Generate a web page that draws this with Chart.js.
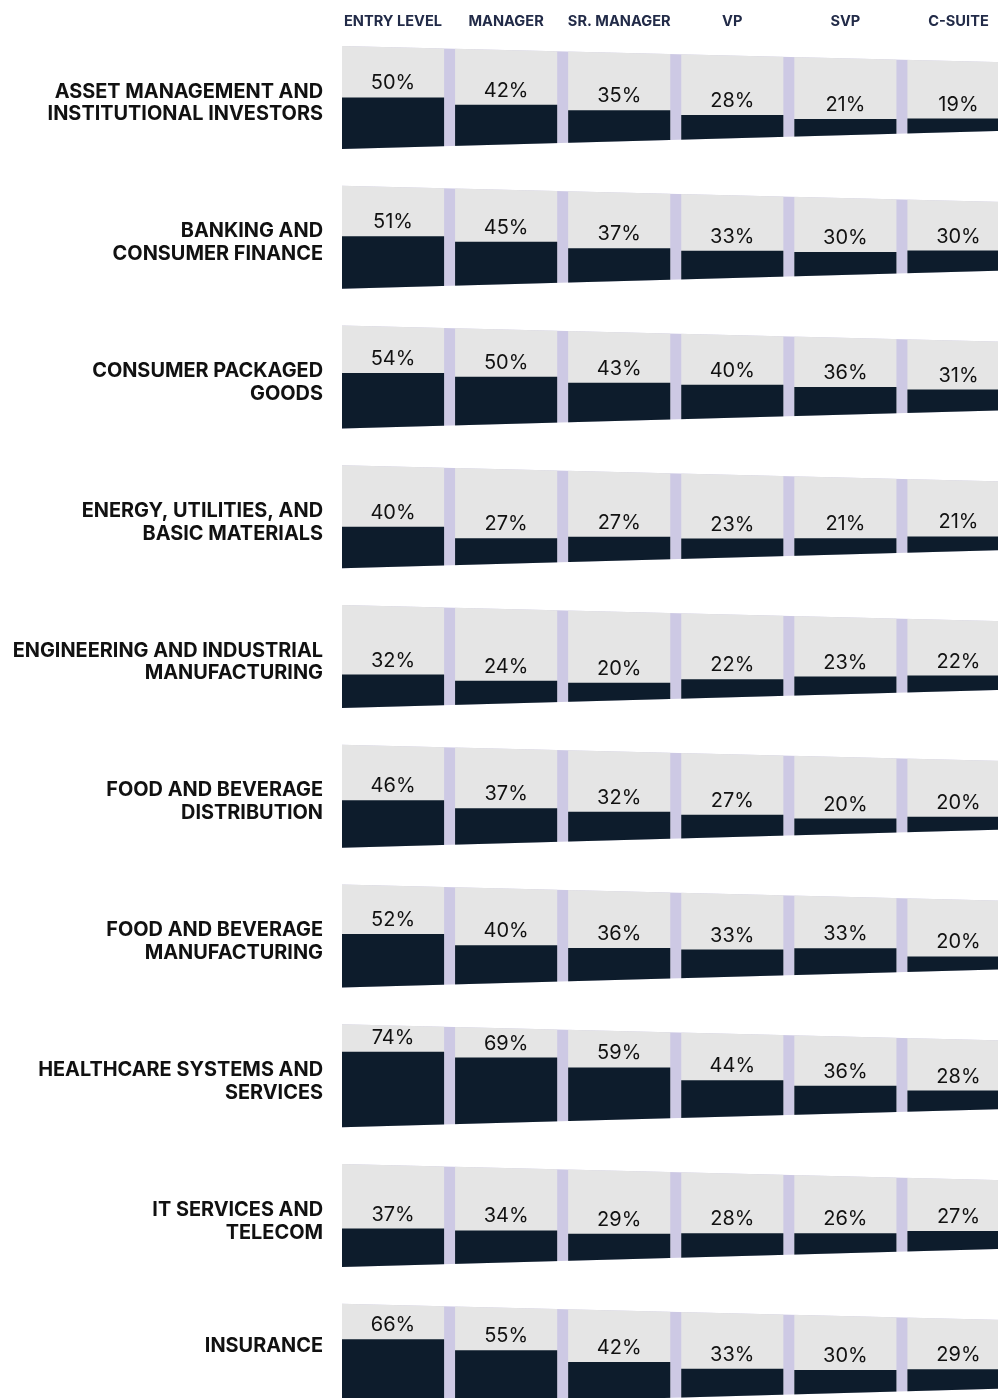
<!DOCTYPE html>
<html>
<head>
<meta charset="utf-8">
<script src="https://cdn.jsdelivr.net/npm/chart.js@4.4.1/dist/chart.umd.min.js"></script>
<style>
  html, body { margin: 0; padding: 0; background: #fff; overflow: hidden; }
  #wrap { width: 998px; height: 1398px; overflow: hidden; }
  canvas { display: block; }
</style>
</head>
<body>
<div id="wrap"><canvas id="chart" width="1015" height="1398"></canvas></div>
<script>
// column headers (career level)
const levels = ['ENTRY LEVEL', 'MANAGER', 'SR. MANAGER', 'VP', 'SVP', 'C-SUITE'];

// row labels (industry)
const industries = [
  'ASSET MANAGEMENT AND\nINSTITUTIONAL INVESTORS',
  'BANKING AND\nCONSUMER FINANCE',
  'CONSUMER PACKAGED\nGOODS',
  'ENERGY, UTILITIES, AND\nBASIC MATERIALS',
  'ENGINEERING AND INDUSTRIAL\nMANUFACTURING',
  'FOOD AND BEVERAGE\nDISTRIBUTION',
  'FOOD AND BEVERAGE\nMANUFACTURING',
  'HEALTHCARE SYSTEMS AND\nSERVICES',
  'IT SERVICES AND\nTELECOM',
  'INSURANCE'
];

// share per level, %
const assetManagement   = [50, 42, 35, 28, 21, 19];
const banking           = [51, 45, 37, 33, 30, 30];
const consumerPackaged  = [54, 50, 43, 40, 36, 31];
const energyUtilities   = [40, 27, 27, 23, 21, 21];
const engineering       = [32, 24, 20, 22, 23, 22];
const foodDistribution  = [46, 37, 32, 27, 20, 20];
const foodManufacturing = [52, 40, 36, 33, 33, 20];
const healthcare        = [74, 69, 59, 44, 36, 28];
const itTelecom         = [37, 34, 29, 28, 26, 27];
const insurance         = [66, 55, 42, 33, 30, 29];

const rows = [assetManagement, banking, consumerPackaged, energyUtilities, engineering,
  foodDistribution, foodManufacturing, healthcare, itTelecom, insurance];

// tapered band geometry, y scale units are pixels
const AREA_TOP = 40;
const ROW_PITCH = 139.76;
const BAND_TOP = 46, BAND_H = 103;
const BAND_LEFT = 342, BAND_SPAN = 656;
const TOP_DROP = 16, BOTTOM_RISE = 18;
const COL_PITCH = 113, FIRST_COL = 393;

function bandTop(r, x) { return BAND_TOP + r * ROW_PITCH + TOP_DROP * (x - BAND_LEFT) / BAND_SPAN; }
function bandBottom(r, x) { return BAND_TOP + BAND_H + r * ROW_PITCH - BOTTOM_RISE * (x - BAND_LEFT) / BAND_SPAN; }
function colX(i) { return FIRST_COL + COL_PITCH * i; }

function valueRange(r, i, v) {
  const x = colX(i);
  const b = bandBottom(r, x), t = bandTop(r, x);
  return [b - v / 100 * (b - t), b + 12];
}
function trackRange(r, i) {
  const x = colX(i);
  return [bandTop(r, x) - 12, bandBottom(r, x) + 12];
}
function labelPos(r) {
  const lines = industries[r].split('\n').length;
  return BAND_TOP + r * ROW_PITCH + (lines > 1 ? 57 : 42);
}

const datasets = [];
rows.forEach((vals, r) => {
  datasets.push({
    label: industries[r],
    data: vals.map((v, i) => valueRange(r, i, v)),
    backgroundColor: '#0d1c2c',
    order: 1,
    rowIndex: r
  });
  datasets.push({
    label: 'track',
    data: vals.map((v, i) => trackRange(r, i)),
    backgroundColor: '#e5e5e5',
    order: 2
  });
});

const bandPlugin = {
  id: 'bands',
  beforeDatasetsDraw(chart) {
    const ctx = chart.ctx;
    const y = chart.scales.y;
    const right = chart.chartArea.right;
    ctx.save();
    ctx.beginPath();
    rows.forEach((_, r) => {
      ctx.moveTo(BAND_LEFT, y.getPixelForValue(bandTop(r, BAND_LEFT)));
      ctx.lineTo(right, y.getPixelForValue(bandTop(r, right)));
      ctx.lineTo(right, y.getPixelForValue(bandBottom(r, right)));
      ctx.lineTo(BAND_LEFT, y.getPixelForValue(bandBottom(r, BAND_LEFT)));
      ctx.closePath();
    });
    ctx.fillStyle = '#cdc9e4';
    ctx.fill();
    ctx.clip();
  },
  afterDatasetsDraw(chart) {
    const ctx = chart.ctx;
    ctx.restore();
    ctx.save();
    ctx.font = '400 20px Inter';
    ctx.fillStyle = '#111111';
    ctx.textAlign = 'center';
    ctx.textBaseline = 'alphabetic';
    chart.data.datasets.forEach((ds, di) => {
      if (ds.rowIndex === undefined) return;
      chart.getDatasetMeta(di).data.forEach((bar, i) => {
        const top = Math.min(bar.y, bar.base);
        ctx.fillText(rows[ds.rowIndex][i] + '%', bar.x, top - 8);
      });
    });
    ctx.restore();
  }
};

new Chart(document.getElementById('chart'), {
  type: 'bar',
  data: { labels: levels, datasets: datasets },
  options: {
    responsive: false,
    animation: false,
    devicePixelRatio: 1,
    layout: { padding: 0 },
    datasets: {
      bar: { grouped: false, categoryPercentage: 1, barPercentage: 0.903 }
    },
    plugins: {
      legend: { display: false },
      tooltip: { enabled: false }
    },
    scales: {
      x: {
        position: 'top',
        grid: { display: false, drawTicks: false },
        border: { display: false },
        ticks: {
          color: '#222b48',
          font: { family: 'Inter', size: 14.6, weight: '700' },
          padding: 10,
          maxRotation: 0,
          autoSkip: false
        },
        afterFit(s) {
          s.height = AREA_TOP;
          s.paddingLeft = 0;
          s.paddingRight = 0;
        }
      },
      y: {
        reverse: true,
        min: AREA_TOP,
        max: 1398,
        grid: { display: false, drawTicks: false },
        border: { display: false },
        afterBuildTicks(s) {
          s.ticks = rows.map((_, r) => ({ value: labelPos(r) }));
        },
        ticks: {
          color: '#111111',
          font: { family: 'Inter', size: 19.9, weight: '700', lineHeight: 1.15 },
          padding: 13.5,
          autoSkip: false,
          callback(value, index) { return industries[index].split('\n'); }
        },
        afterFit(s) {
          s.width = 336.5;
          s.paddingTop = 0;
          s.paddingBottom = 0;
        }
      }
    }
  },
  plugins: [bandPlugin]
});
</script>
</body>
</html>
